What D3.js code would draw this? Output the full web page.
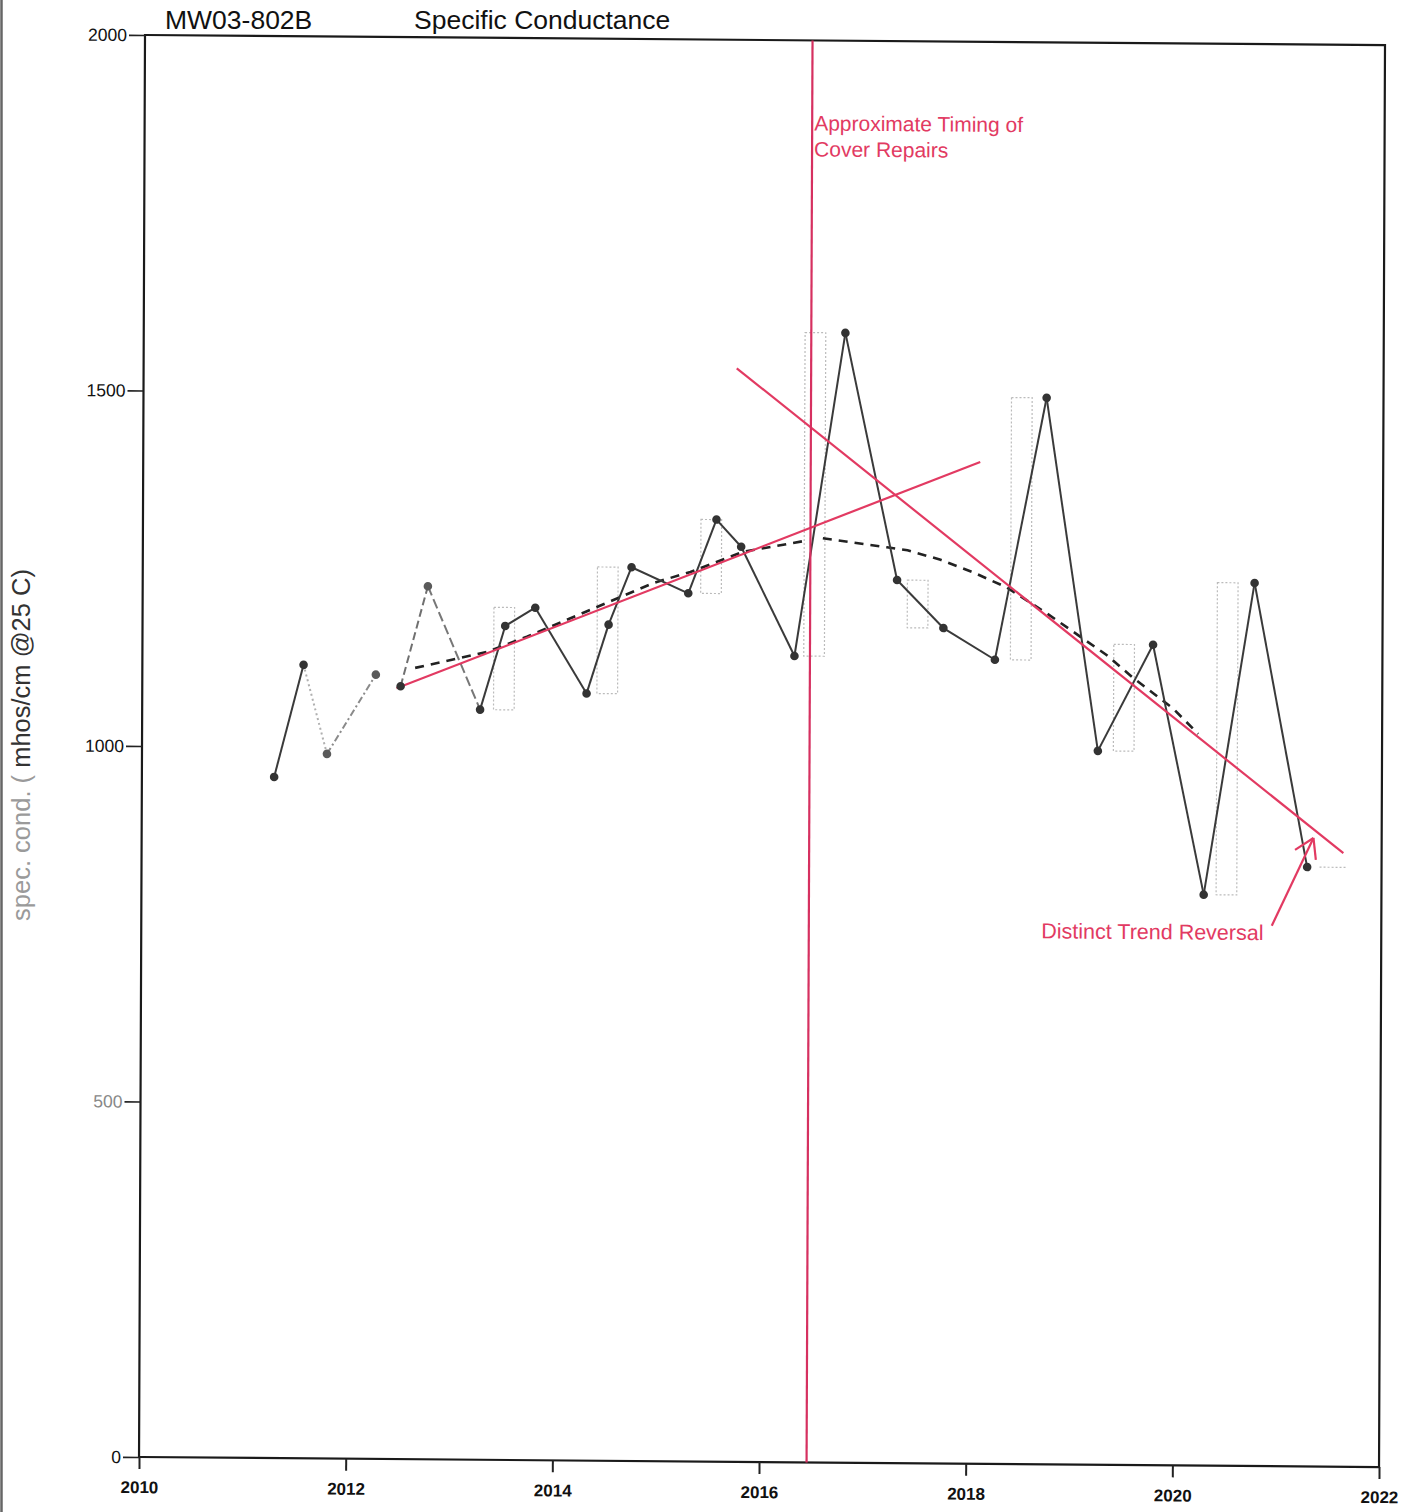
<!DOCTYPE html>
<html>
<head>
<meta charset="utf-8">
<title>MW03-802B Specific Conductance</title>
<script src="https://cdn.jsdelivr.net/npm/d3@7"></script>
<style>
  body { margin: 0; background: #fff; }
  svg { display: block; }
  text { font-family: "Liberation Sans", Arial, sans-serif; }
</style>
</head>
<body>
<svg id="chart" width="1408" height="1512"></svg>
<script>
// ---- Data -----------------------------------------------------------------
// Sampling dates (decimal years) and specific conductance readings
const sampleDates = [2011.28, 2011.56, 2011.79, 2012.26, 2012.50, 2012.76, 2013.27, 2013.51, 2013.80,
                     2014.30, 2014.51, 2014.73, 2015.28, 2015.55, 2015.79, 2016.31, 2016.79, 2017.30,
                     2017.75, 2018.25, 2018.74, 2019.25, 2019.78, 2020.28, 2020.76, 2021.28];
const conductance = [958, 1116, 991, 1103, 1087, 1228, 1055, 1173, 1199,
                     1079, 1176, 1257, 1221, 1325, 1287, 1134, 1589, 1242,
                     1175, 1131, 1500, 1004, 1154, 803, 1242, 843];
// index where the record restarts after a gap
const seriesBreaks = [4];

// Smoothed trend (before and after the cover repairs)
const smoothBeforeDates = [2012.64, 2013.33, 2013.72, 2014.94, 2015.30, 2015.81, 2016.44];
const smoothBeforeValues = [1113, 1136, 1158, 1235, 1251, 1280, 1297];
const smoothAfterDates = [2016.58, 2017.20, 2017.40, 2017.72, 2018.03, 2018.36, 2018.75, 2019.33, 2019.59, 2019.98, 2020.22];
const smoothAfterValues = [1300, 1288, 1284, 1271, 1254, 1233, 1197, 1139, 1107, 1064, 1029];

// Fitted trend lines
const trendUpDates = [2012.46, 2018.10];
const trendUpValues = [1084, 1409];
const trendDownDates = [2015.74, 2021.63];
const trendDownValues = [1538, 863];

// Cover repair date and the arrow pointing at the reversal
const repairDate = 2016.46;
const arrowDates = [2020.94, 2021.34];
const arrowValues = [760, 884];

// Years shown with an annual min-max range box
const rangeYears = [2013, 2014, 2015, 2016, 2017, 2018, 2019, 2020, 2021];

// Axis ticks
const yTicks = [0, 500, 1000, 1500, 2000];
const xTicks = [2010, 2012, 2014, 2016, 2018, 2020, 2022];

// ---- Layout ---------------------------------------------------------------
const W = 1240, H = 1422;
const svg = d3.select("#chart");
const red = "#e23a62";

const x = d3.scaleLinear().domain([2010, 2022]).range([0, W]);
const y = d3.scaleLinear().domain([0, 2000]).range([H, 0]);

// the whole sheet sits slightly tilted on the page
const g = svg.append("g").attr("transform", "matrix(1,0.0081,-0.0042,1,145,35)");

// page edge
svg.append("line").attr("x1", 1.5).attr("x2", 1.5).attr("y1", 0).attr("y2", 1512)
  .attr("stroke", "#666").attr("stroke-width", 2.5);

// titles
svg.append("text").attr("x", 165).attr("y", 29).attr("font-size", 26.5).attr("fill", "#111")
  .text("MW03-802B");
svg.append("text").attr("x", 414).attr("y", 29).attr("font-size", 26.5).attr("fill", "#111")
  .text("Specific Conductance");

// y-axis title
const yt = svg.append("text").attr("transform", "translate(30,745) rotate(-90)")
  .attr("text-anchor", "middle").attr("font-size", 25.5);
yt.append("tspan").attr("fill", "#9a9a9a").text("spec. cond. ( ");
yt.append("tspan").attr("fill", "#333").text("mhos/cm @25 C)");

// annual min-max range boxes (faint dotted)
const byYear = d3.group(sampleDates.map((d, i) => ({ d, v: conductance[i] })), p => Math.floor(p.d));
const boxes = g.append("g").attr("fill", "none").attr("stroke", "#bbbbbb")
  .attr("stroke-width", 1.2).attr("stroke-dasharray", "2,2");
rangeYears.forEach(yr => {
  const pts = byYear.get(yr) || [];
  if (!pts.length) return;
  const lo = d3.min(pts, p => p.v), hi = d3.max(pts, p => p.v);
  const x0 = x(yr + 0.4), x1 = x(yr + 0.6);
  if (hi - lo < 1) {
    boxes.append("line").attr("x1", x0).attr("x2", x1 + 6).attr("y1", y(lo)).attr("y2", y(lo));
  } else {
    boxes.append("rect").attr("x", x0).attr("y", y(hi)).attr("width", x1 - x0).attr("height", y(lo) - y(hi));
  }
});

// frame
g.append("rect").attr("x", 0).attr("y", 0).attr("width", W).attr("height", H)
  .attr("fill", "none").attr("stroke", "#1a1a1a").attr("stroke-width", 2.2);

// axes
const yAxis = g.append("g").call(d3.axisLeft(y).tickValues(yTicks).tickSize(16).tickPadding(2)
  .tickFormat(d3.format("d")));
yAxis.select(".domain").remove();
yAxis.selectAll(".tick line").attr("stroke", "#222").attr("stroke-width", 1.6);
yAxis.selectAll(".tick text").attr("font-size", 17.5).attr("fill", d => d === 500 ? "#888" : "#111")
  .attr("font-family", "'Liberation Sans', Arial, sans-serif");

const xAxis = g.append("g").attr("transform", `translate(0,${H})`)
  .call(d3.axisBottom(x).tickValues(xTicks).tickSize(12).tickPadding(12).tickFormat(d => d));
xAxis.select(".domain").remove();
xAxis.selectAll(".tick line").attr("stroke", "#222").attr("stroke-width", 2);
xAxis.selectAll(".tick text").attr("font-size", 17).attr("fill", "#111").attr("font-weight", "bold")
  .attr("font-family", "'Liberation Sans', Arial, sans-serif");

// smoothed trend (dashed black)
const line = d3.line().x(d => x(d[0])).y(d => y(d[1]));
[[smoothBeforeDates, smoothBeforeValues], [smoothAfterDates, smoothAfterValues]].forEach(([ds, vs]) => {
  g.append("path").datum(ds.map((d, i) => [d, vs[i]])).attr("d", line)
    .attr("fill", "none").attr("stroke", "#222").attr("stroke-width", 2.6)
    .attr("stroke-dasharray", "9,7");
});

// data line, drawn segment by segment
const segStyle = {
  1: { stroke: "#b0b0b0", dash: "2,3" },
  2: { stroke: "#8a8a8a", dash: "7,3,2,3" },
  4: { stroke: "#707070", dash: "8,4" },
  5: { stroke: "#777", dash: "10,4" }
};
for (let i = 0; i < sampleDates.length - 1; i++) {
  if (seriesBreaks.includes(i + 1)) continue;
  const s = segStyle[i] || { stroke: "#3a3a3a", dash: null };
  g.append("line")
    .attr("x1", x(sampleDates[i])).attr("y1", y(conductance[i]))
    .attr("x2", x(sampleDates[i + 1])).attr("y2", y(conductance[i + 1]))
    .attr("stroke", s.stroke).attr("stroke-width", 2).attr("stroke-dasharray", s.dash);
}

// trend lines
[[trendUpDates, trendUpValues], [trendDownDates, trendDownValues]].forEach(([ds, vs]) => {
  g.append("path").datum(ds.map((d, i) => [d, vs[i]])).attr("d", line)
    .attr("fill", "none").attr("stroke", red).attr("stroke-width", 2.2);
});

// cover repair marker
g.append("line").attr("x1", x(repairDate)).attr("x2", x(repairDate)).attr("y1", 0).attr("y2", H)
  .attr("stroke", "#d63060").attr("stroke-width", 2.2);

// sample points
g.append("g").selectAll("circle").data(sampleDates).join("circle")
  .attr("cx", d => x(d)).attr("cy", (d, i) => y(conductance[i])).attr("r", 4.3)
  .attr("fill", (d, i) => [2, 3, 5].includes(i) ? "#5a5a5a" : "#333");

// annotations
g.append("text").attr("x", x(repairDate) + 2).attr("y", 90).attr("font-size", 21).attr("fill", red)
  .text("Approximate Timing of");
g.append("text").attr("x", x(repairDate) + 2).attr("y", 116).attr("font-size", 21).attr("fill", red)
  .text("Cover Repairs");
g.append("text").attr("x", 900).attr("y", 896).attr("font-size", 21.5).attr("fill", red)
  .text("Distinct Trend Reversal");

// arrow toward the last sample
const ax0 = x(arrowDates[0]), ay0 = y(arrowValues[0]);
const ax1 = x(arrowDates[1]), ay1 = y(arrowValues[1]);
g.append("line").attr("x1", ax0).attr("y1", ay0).attr("x2", ax1).attr("y2", ay1)
  .attr("stroke", red).attr("stroke-width", 2.2);
const ang = Math.atan2(ay1 - ay0, ax1 - ax0);
[0.55, -0.55].forEach(a => {
  g.append("line").attr("x1", ax1).attr("y1", ay1)
    .attr("x2", ax1 - 22 * Math.cos(ang + a)).attr("y2", ay1 - 22 * Math.sin(ang + a))
    .attr("stroke", red).attr("stroke-width", 2.2);
});
</script>
</body>
</html>
